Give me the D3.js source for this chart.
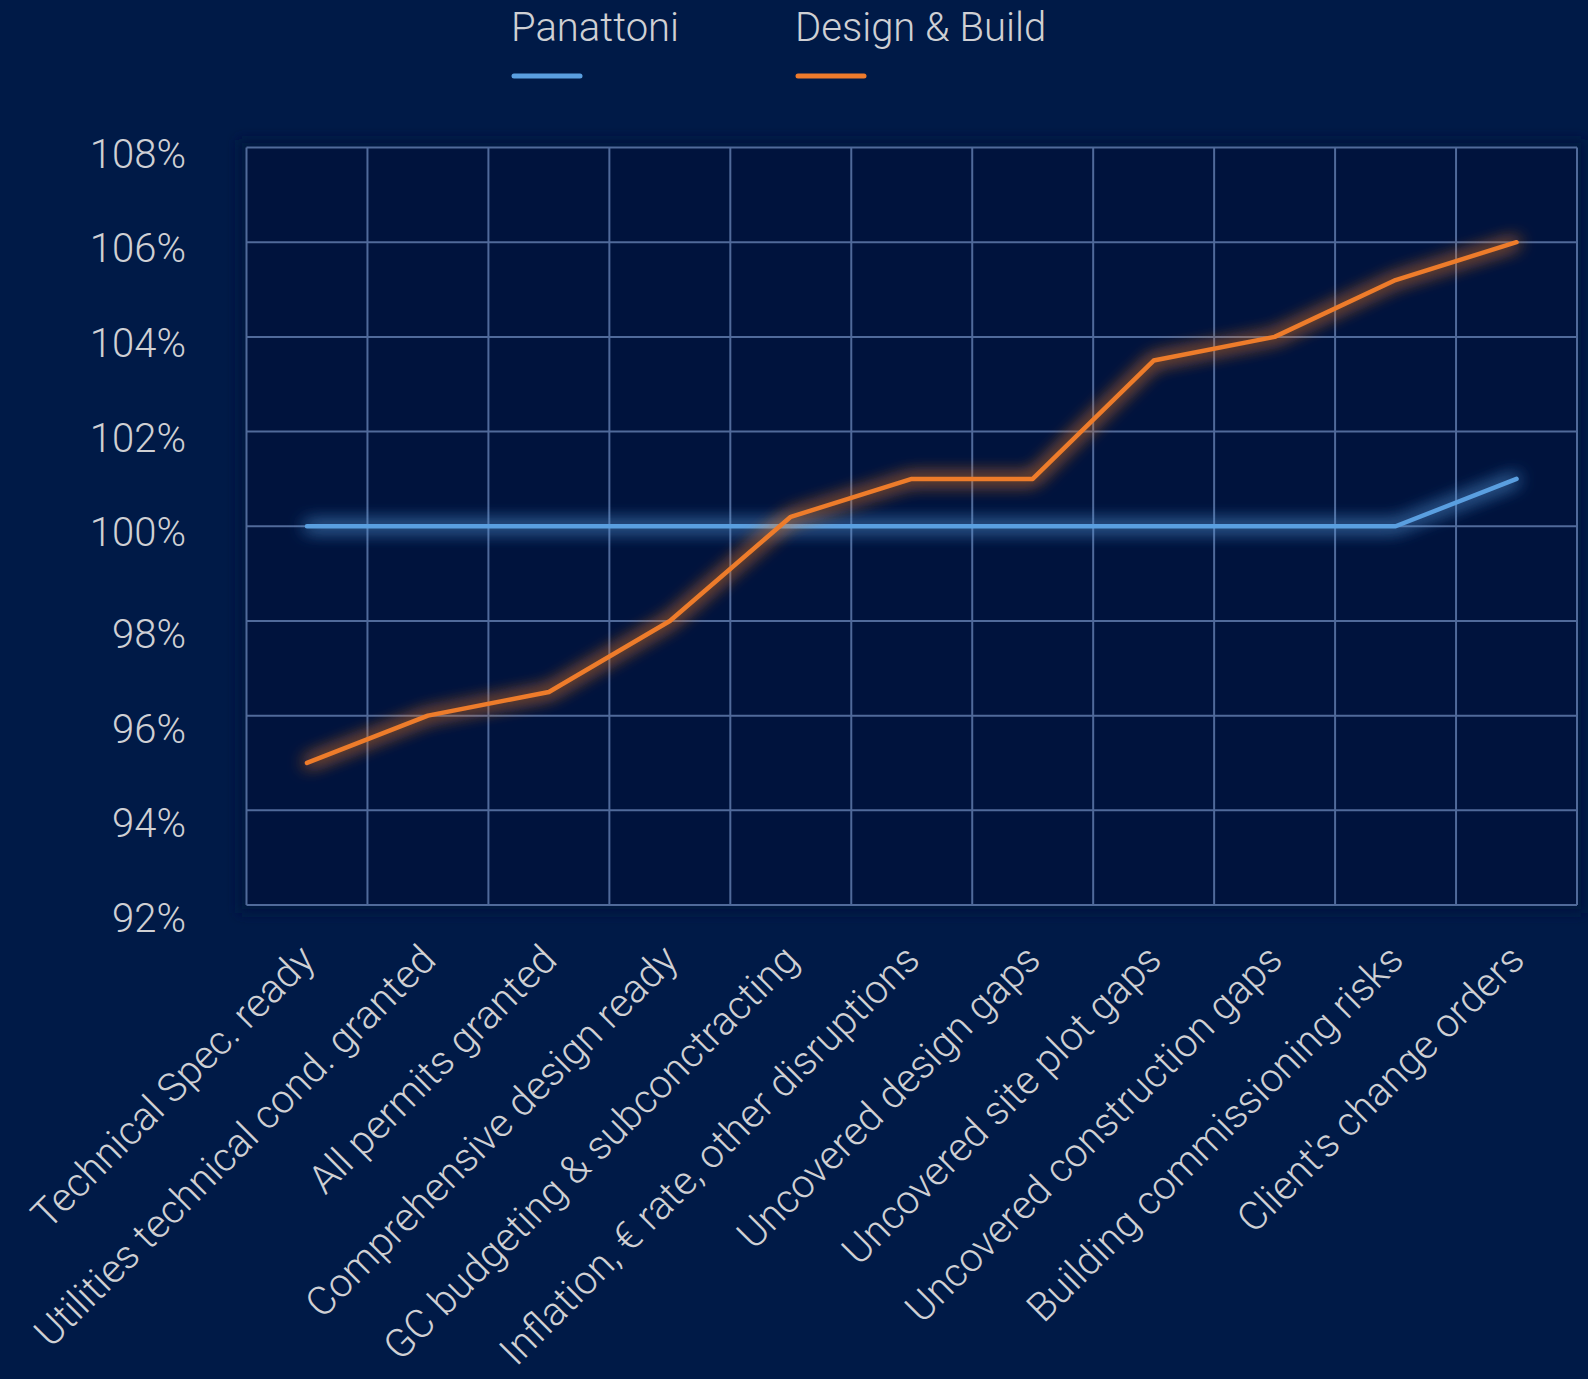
<!DOCTYPE html>
<html>
<head>
<meta charset="utf-8">
<script src="https://cdn.jsdelivr.net/npm/d3@7"></script>
<style>
  html, body { margin: 0; padding: 0; background: #001a47; }
  svg { display: block; font-family: Roboto, "DejaVu Sans", sans-serif; }
</style>
</head>
<body>
<script>
// chart data
var categories = [
  "Technical Spec. ready",
  "Utilities technical cond. granted",
  "All permits granted",
  "Comprehensive design ready",
  "GC budgeting & subconctracting",
  "Inflation, \u20ac rate, other disruptions",
  "Uncovered design gaps",
  "Uncovered site plot gaps",
  "Uncovered construction gaps",
  "Building commissioning risks",
  "Client's change orders"
];
var panattoni = [100, 100, 100, 100, 100, 100, 100, 100, 100, 100, 101];
var designBuild = [95, 96, 96.5, 98, 100.2, 101, 101, 103.5, 104, 105.2, 106];
var yTicks = [92, 94, 96, 98, 100, 102, 104, 106, 108];
var seriesNames = ["Panattoni", "Design & Build"];
var seriesColors = ["#5a9fe0", "#ee7b2c"];

var width = 1588,
    height = 1379;

var margin = {top: 147.5, right: 11, bottom: 474, left: 246.5};

var svg = d3.select("body").append("svg")
    .attr("width", width)
    .attr("height", height);

svg.append("rect")
    .attr("width", width)
    .attr("height", height)
    .attr("fill", "#001a47");

// glow filter for the lines
var defs = svg.append("defs");
var glow = defs.append("filter")
    .attr("id", "glow")
    .attr("x", "-20%").attr("y", "-50%")
    .attr("width", "140%").attr("height", "200%");
glow.append("feGaussianBlur")
    .attr("in", "SourceGraphic")
    .attr("stdDeviation", 9)
    .attr("result", "blur");
var merge = glow.append("feMerge");
merge.append("feMergeNode").attr("in", "blur");
merge.append("feMergeNode").attr("in", "blur");
merge.append("feMergeNode").attr("in", "SourceGraphic");

var shadow = defs.append("filter")
    .attr("id", "shadow")
    .attr("x", "-5%").attr("y", "-5%")
    .attr("width", "110%").attr("height", "110%");
shadow.append("feGaussianBlur").attr("stdDeviation", 6);

var x = d3.scaleBand()
    .domain(categories)
    .range([margin.left, width - margin.right]);

var y = d3.scaleLinear()
    .domain([92, 108])
    .range([height - margin.bottom, margin.top]);

// plot background
svg.append("rect")
    .attr("x", x.range()[0] - 8)
    .attr("y", y(108) - 8)
    .attr("width", x.range()[1] - x.range()[0] + 16)
    .attr("height", y(92) - y(108) + 16)
    .attr("fill", "#00163f")
    .attr("filter", "url(#shadow)");
svg.append("rect")
    .attr("x", x.range()[0])
    .attr("y", y(108))
    .attr("width", x.range()[1] - x.range()[0])
    .attr("height", y(92) - y(108))
    .attr("fill", "#00133d");

// grid
var grid = svg.append("g").attr("stroke", "#506a9a").attr("stroke-width", 2);
grid.selectAll("line.h")
  .data(yTicks)
  .enter().append("line")
    .attr("class", "h")
    .attr("x1", x.range()[0])
    .attr("x2", x.range()[1])
    .attr("y1", function(d) { return y(d); })
    .attr("y2", function(d) { return y(d); });
grid.selectAll("line.v")
  .data(categories.concat(["end"]))
  .enter().append("line")
    .attr("class", "v")
    .attr("x1", function(d, i) { return i < categories.length ? x(d) : x.range()[1]; })
    .attr("x2", function(d, i) { return i < categories.length ? x(d) : x.range()[1]; })
    .attr("y1", y(108))
    .attr("y2", y(92));

// y axis labels (two-digit labels sit a little lower in the original)
svg.append("g").selectAll("text")
  .data(yTicks)
  .enter().append("text")
    .attr("x", 186)
    .attr("y", function(d) { return y(d) + (d >= 100 ? 20 : 27); })
    .attr("text-anchor", "end")
    .attr("fill", "#cfd0d4")
    .attr("font-size", 40)
    .attr("font-weight", 300)
    .text(function(d) { return d + "%"; });

// x axis labels
svg.append("g").selectAll("text")
  .data(categories)
  .enter().append("text")
    .attr("transform", function(d) {
      return "translate(" + (x(d) + x.bandwidth() / 2 + 10) + "," + 962 + ") rotate(-45)";
    })
    .attr("text-anchor", "end")
    .attr("fill", "#cfd0d4")
    .attr("font-size", 40)
    .attr("font-weight", 300)
    .text(function(d) { return d; });

// lines
var line = d3.line()
    .x(function(d, i) { return x(categories[i]) + x.bandwidth() / 2; })
    .y(function(d) { return y(d); });

[panattoni, designBuild].forEach(function(series, i) {
  svg.append("path")
      .datum(series)
      .attr("fill", "none")
      .attr("stroke", seriesColors[i])
      .attr("stroke-width", 4.5)
      .attr("stroke-linejoin", "round")
      .attr("stroke-linecap", "round")
      .attr("filter", "url(#glow)")
      .attr("d", line);
});

// legend
var legendX = [512, 796];
var legend = svg.append("g").selectAll("g")
  .data(seriesNames)
  .enter().append("g")
    .attr("transform", function(d, i) { return "translate(" + legendX[i] + ",0)"; });
legend.append("text")
    .attr("x", -1)
    .attr("y", 41)
    .attr("fill", "#cfd0d4")
    .attr("font-size", 40)
    .attr("font-weight", 300)
    .text(function(d) { return d; });
legend.append("line")
    .attr("x1", 2)
    .attr("x2", 68)
    .attr("y1", 76)
    .attr("y2", 76)
    .attr("stroke", function(d, i) { return seriesColors[i]; })
    .attr("stroke-width", 5)
    .attr("stroke-linecap", "round");
</script>
</body>
</html>
